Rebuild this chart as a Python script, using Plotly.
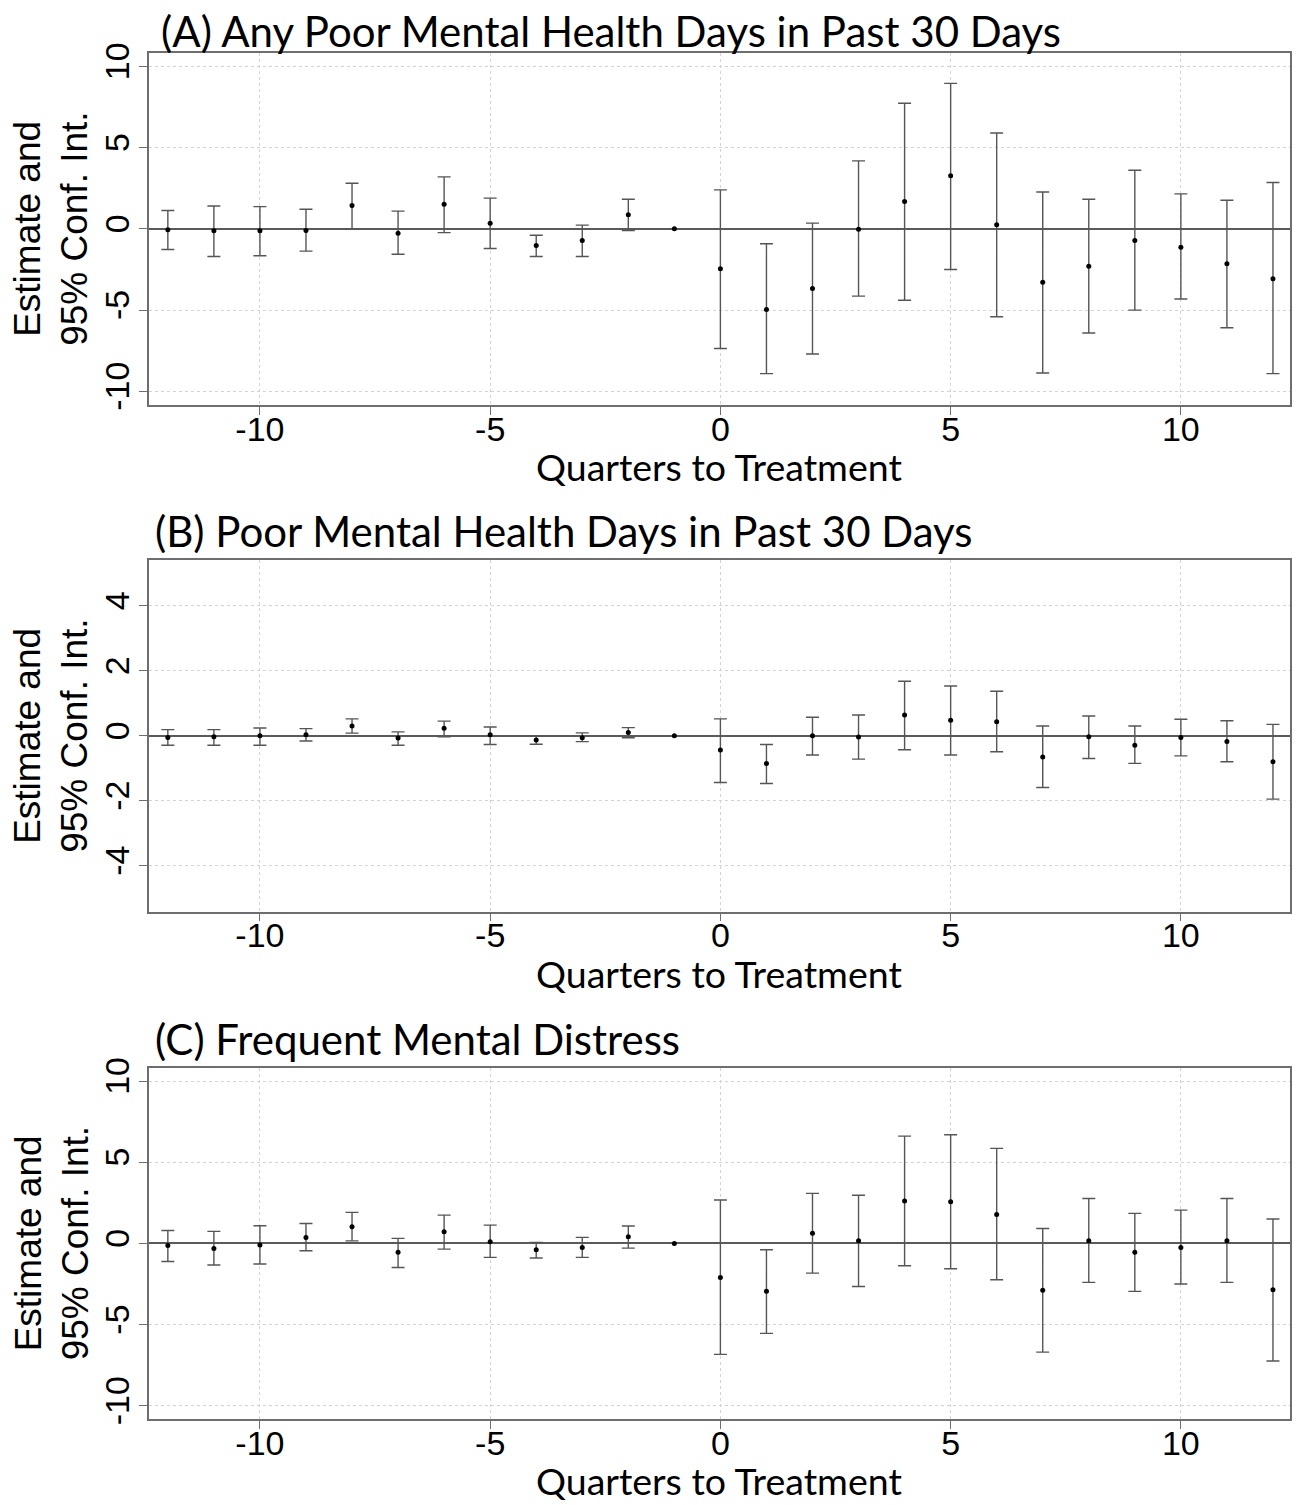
import plotly.graph_objects as go

W, H = 1299, 1505

quarters = list(range(-12, 13))

# Panel A: Any Poor Mental Health Days in Past 30 Days
a_est = [-0.06, -0.12, -0.12, -0.10, 1.43, -0.27, 1.52, 0.35, -1.02, -0.72, 0.86, 0.0,
         -2.46, -4.96, -3.67, -0.02, 1.68, 3.26, 0.25, -3.28, -2.30, -0.72, -1.13, -2.15, -3.07]
a_hi = [1.13, 1.41, 1.37, 1.21, 2.81, 1.09, 3.20, 1.89, -0.39, 0.23, 1.82, None,
        2.40, -0.92, 0.35, 4.18, 7.73, 8.95, 5.90, 2.27, 1.82, 3.61, 2.15, 1.76, 2.85]
a_lo = [-1.27, -1.70, -1.66, -1.37, 0.0, -1.56, -0.23, -1.21, -1.70, -1.70, -0.10, None,
        -7.36, -8.91, -7.70, -4.14, -4.39, -2.50, -5.41, -8.87, -6.41, -5.00, -4.32, -6.09, -8.91]

# Panel B: Poor Mental Health Days in Past 30 Days
b_est = [-0.05, -0.03, 0.0, 0.03, 0.30, -0.07, 0.23, 0.03, -0.13, -0.06, 0.10, 0.0,
         -0.44, -0.85, 0.0, -0.04, 0.64, 0.48, 0.43, -0.65, -0.03, -0.29, -0.05, -0.18, -0.80]
b_hi = [0.19, 0.19, 0.24, 0.22, 0.52, 0.12, 0.45, 0.27, -0.01, 0.09, 0.25, None,
        0.52, -0.27, 0.57, 0.64, 1.68, 1.53, 1.37, 0.30, 0.61, 0.30, 0.51, 0.46, 0.35]
b_lo = [-0.29, -0.29, -0.29, -0.16, 0.08, -0.29, -0.03, -0.27, -0.26, -0.18, -0.06, None,
        -1.44, -1.47, -0.59, -0.72, -0.43, -0.59, -0.49, -1.59, -0.70, -0.85, -0.62, -0.80, -1.95]

# Panel C: Frequent Mental Distress
c_est = [-0.12, -0.31, -0.10, 0.37, 1.03, -0.55, 0.72, 0.10, -0.39, -0.25, 0.41, 0.0,
         -2.09, -2.95, 0.62, 0.16, 2.61, 2.56, 1.78, -2.89, 0.16, -0.55, -0.25, 0.16, -2.85]
c_hi = [0.80, 0.74, 1.09, 1.23, 1.91, 0.31, 1.74, 1.13, 0.06, 0.37, 1.07, None,
        2.67, -0.39, 3.08, 2.97, 6.61, 6.69, 5.85, 0.92, 2.77, 1.85, 2.05, 2.77, 1.50]
c_lo = [-1.11, -1.33, -1.27, -0.45, 0.16, -1.48, -0.35, -0.86, -0.90, -0.86, -0.29, None,
        -6.83, -5.54, -1.83, -2.65, -1.37, -1.56, -2.24, -6.69, -2.40, -2.95, -2.50, -2.40, -7.24]

titles = ["(A) Any Poor Mental Health Days in Past 30 Days",
          "(B) Poor Mental Health Days in Past 30 Days",
          "(C) Frequent Mental Distress"]
x_ticks = [-10, -5, 0, 5, 10]
y_ticks = [[-10, -5, 0, 5, 10], [-4, -2, 0, 2, 4], [-10, -5, 0, 5, 10]]
y_ranges = [[-10.84, 10.84], [-5.415, 5.41], [-10.81, 10.82]]
x_range = [-12.42, 12.37]
x_title = "Quarters to Treatment"
y_title_1 = "Estimate and"
y_title_2 = "95% Conf. Int."

panels = [(a_est, a_lo, a_hi), (b_est, b_lo, b_hi), (c_est, c_lo, c_hi)]

# pixel layout of plot boxes in the page (top, bottom)
box_left, box_right = 148.5, 1290.0
boxes = [(52.7, 405.0), (560.0, 911.7), (1067.7, 1419.0)]
title_base = [47.0, 547.0, 1055.0]
title_left = [159.0, 153.0, 153.0]

R_FONT = "Liberation Sans, Arial, sans-serif"
W_FONT = "Lato, Open Sans, sans-serif"
TITLE_FS = 42.0
XT_FS = 37.5

def px(x):
    return x / W

def py(y):
    return 1 - y / H

fig = go.Figure()
annotations = []
layout = dict(
    width=W, height=H,
    margin=dict(l=0, r=0, t=0, b=0),
    paper_bgcolor="white", plot_bgcolor="white",
    showlegend=False,
)

for i, (est, lo, hi) in enumerate(panels):
    n = "" if i == 0 else str(i + 1)
    xa, ya = "x" + n, "y" + n
    idx = [k for k in range(len(quarters)) if hi[k] is not None]
    xs = [quarters[k] for k in idx]
    ys = [est[k] for k in idx]
    ep = [hi[k] - est[k] for k in idx]
    em = [est[k] - lo[k] for k in idx]
    fig.add_trace(go.Scatter(
        x=xs, y=ys, mode="markers", xaxis=xa, yaxis=ya,
        marker=dict(color="black", size=5),
        error_y=dict(type="data", array=ep, arrayminus=em, symmetric=False,
                     color="#555555", thickness=1.4, width=6.5),
        hoverinfo="skip",
    ))
    idx0 = [k for k in range(len(quarters)) if hi[k] is None]
    fig.add_trace(go.Scatter(
        x=[quarters[k] for k in idx0], y=[est[k] for k in idx0], mode="markers",
        xaxis=xa, yaxis=ya, marker=dict(color="black", size=5), hoverinfo="skip",
    ))
    top, bot = boxes[i]
    axis_common = dict(
        showline=True, mirror=True, linecolor="#6e6e6e", linewidth=1.5,
        ticks="outside", ticklen=8, tickwidth=1.2, tickcolor="#6e6e6e",
        showgrid=True, gridcolor="#d4d4d4", griddash="dot", gridwidth=1,
        tickfont=dict(family=R_FONT, size=34, color="black"),
        automargin=False,
    )
    layout["xaxis" + n] = dict(
        axis_common, domain=[px(box_left), px(box_right)], range=x_range,
        tickmode="array", tickvals=x_ticks, ticktext=[str(v) for v in x_ticks],
        anchor=ya, zeroline=False, ticklabelstandoff=-15,
    )
    layout["yaxis" + n] = dict(
        axis_common, domain=[py(bot), py(top)], range=y_ranges[i],
        tickmode="array", tickvals=y_ticks[i], ticktext=[str(v) for v in y_ticks[i]],
        tickangle=-90, anchor=xa, ticklabelstandoff=-4,
        zeroline=True, zerolinecolor="#5a5a5a", zerolinewidth=1.6,
    )
    ymid = (top + bot) / 2
    annotations.append(dict(
        text=y_title_1, xref="paper", yref="paper", x=px(28), y=py(ymid),
        textangle=-90, showarrow=False, xanchor="center", yanchor="middle",
        font=dict(family=R_FONT, size=37, color="black"),
    ))
    annotations.append(dict(
        text=y_title_2, xref="paper", yref="paper", x=px(75), y=py(ymid),
        textangle=-90, showarrow=False, xanchor="center", yanchor="middle",
        font=dict(family=R_FONT, size=37, color="black"),
    ))
    annotations.append(dict(
        text=x_title, xref="paper", yref="paper", x=px((box_left + box_right) / 2),
        y=py(bot + 76 - 0.387 * XT_FS), showarrow=False, xanchor="center", yanchor="middle",
        font=dict(family=W_FONT, size=XT_FS, color="black"),
    ))
    annotations.append(dict(
        text=titles[i], xref="paper", yref="paper", x=px(title_left[i]),
        y=py(title_base[i] - 0.387 * TITLE_FS), showarrow=False, xanchor="left", yanchor="middle",
        font=dict(family=W_FONT, size=TITLE_FS, color="black"),
    ))

layout["annotations"] = annotations
fig.update_layout(**layout)
fig.write_html("out.html", config={"displayModeBar": False},
               post_script="document.body.style.margin='0';")
